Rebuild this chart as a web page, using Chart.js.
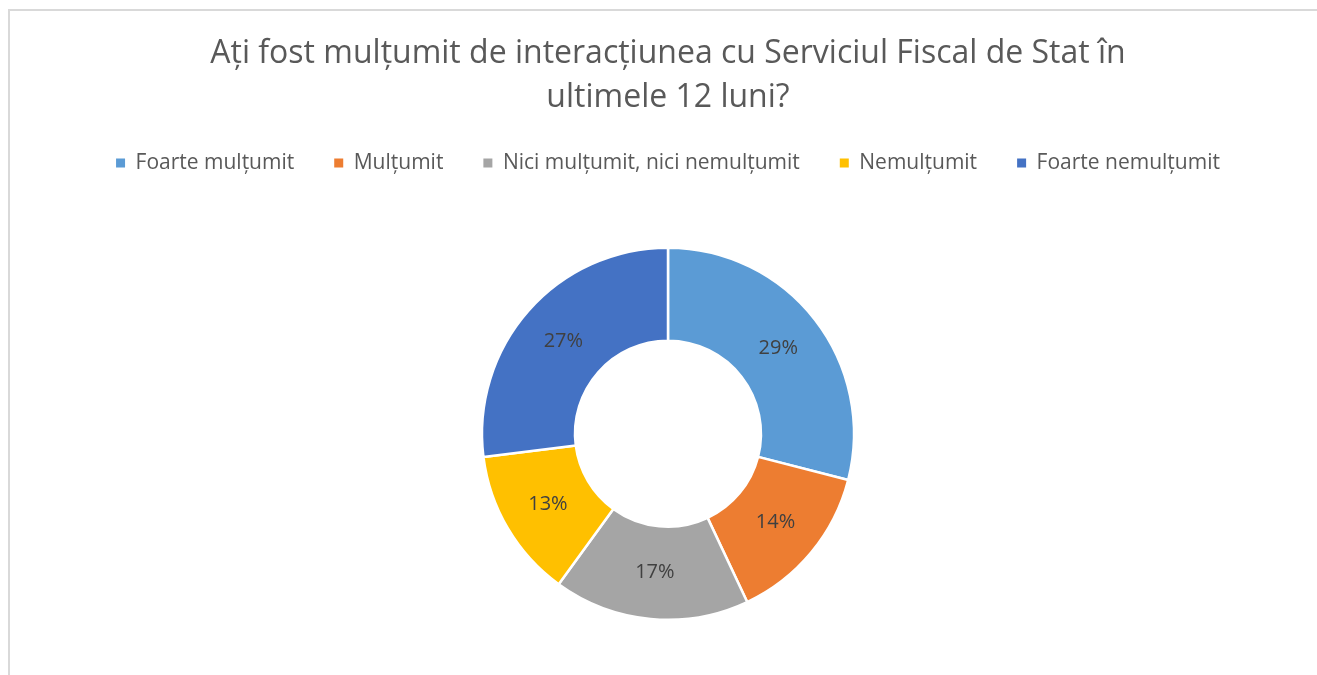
<!DOCTYPE html>
<html>
<head>
<meta charset="utf-8">
<script src="https://cdn.jsdelivr.net/npm/chart.js@4.4.1/dist/chart.umd.min.js"></script>
<style>
  html, body { margin: 0; padding: 0; background: #fff; overflow: hidden; }
  #box {
    position: absolute; left: 8px; top: 9px;
    width: 1320px; height: 670px;
    border-top: 2px solid #d9d9d9; border-left: 2px solid #d9d9d9;
  }
  #wrap { position: absolute; left: 0; top: 0; width: 1316px; height: 665px; }
</style>
</head>
<body>
<div id="box"><div id="wrap"><canvas id="chart"></canvas></div></div>
<script>
// ===== data =====
const TITLE_LINES = [
  "Ați fost mulțumit de interacțiunea cu Serviciul Fiscal de Stat în",
  "ultimele 12 luni?",
];
const categories = [
  "Foarte mulțumit",
  "Mulțumit",
  "Nici mulțumit, nici nemulțumit",
  "Nemulțumit",
  "Foarte nemulțumit",
];
const shares = [29, 14, 17, 13, 27];
const sliceColors = ["#5B9BD5", "#ED7D31", "#A5A5A5", "#FFC000", "#4472C4"];

const FONT = "'Open Sans', 'DejaVu Sans', sans-serif";

// legend spacing: extra room under it, and pull it up a bit after layout
const legendGap = {
  id: "legendGap",
  beforeInit(chart) {
    const origFit = chart.legend.fit;
    chart.legend.fit = function () {
      origFit.bind(this)();
      this.height += 55;
    };
  },
  afterLayout(chart) {
    chart.legend.top -= 8;
    chart.legend.bottom -= 8;
  },
};

// percent labels in the middle of each ring segment
const sliceLabels = {
  id: "sliceLabels",
  afterDatasetsDraw(chart) {
    const { ctx } = chart;
    const meta = chart.getDatasetMeta(0);
    ctx.save();
    ctx.font = "20px " + FONT;
    ctx.fillStyle = "#404040";
    ctx.textAlign = "center";
    ctx.textBaseline = "middle";
    meta.data.forEach((arc, i) => {
      const p = arc.tooltipPosition();
      ctx.fillText(shares[i] + "%", p.x, p.y);
    });
    ctx.restore();
  },
};

new Chart(document.getElementById("chart"), {
  type: "doughnut",
  data: {
    labels: categories,
    datasets: [{
      data: shares,
      backgroundColor: sliceColors,
      borderColor: "#ffffff",
      borderWidth: 2.5,
      hoverOffset: 0,
    }],
  },
  options: {
    responsive: true,
    maintainAspectRatio: false,
    animation: false,
    cutout: "50%",
    layout: { padding: { top: 0, bottom: 55, left: 0, right: 0 } },
    plugins: {
      title: {
        display: true,
        text: TITLE_LINES,
        color: "#595959",
        font: { family: FONT, size: 32, weight: "normal", lineHeight: 1.375 },
        padding: { top: 21, bottom: 0.5 },
      },
      legend: {
        position: "top",
        labels: {
          color: "#595959",
          font: { family: FONT, size: 21 },
          boxWidth: 9,
          boxHeight: 9,
          padding: 40,
          generateLabels(chart) {
            const items = Chart.overrides.doughnut.plugins.legend.labels.generateLabels(chart);
            items.forEach(it => { it.lineWidth = 0; it.strokeStyle = it.fillStyle; });
            return items;
          },
        },
      },
      tooltip: { enabled: false },
    },
  },
  plugins: [legendGap, sliceLabels],
});
</script>
</body>
</html>
